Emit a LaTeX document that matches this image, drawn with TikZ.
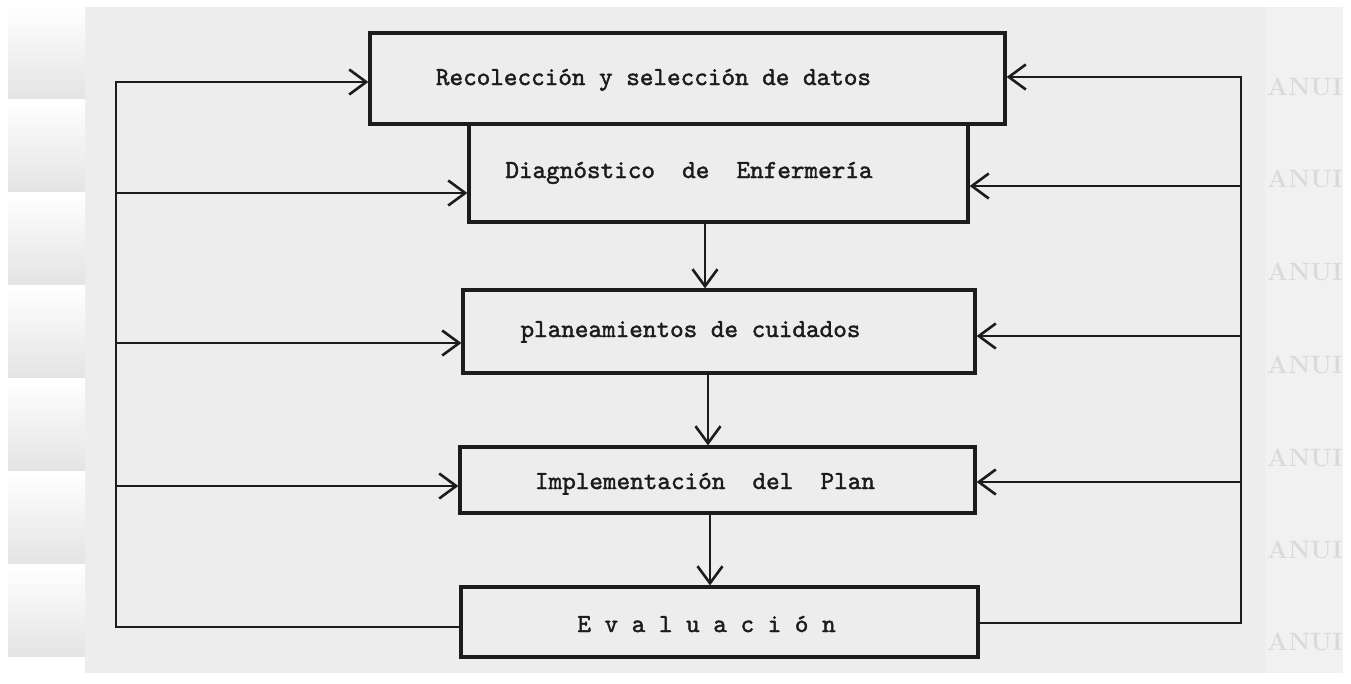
\documentclass[tikz,border=0pt]{standalone}
\usepackage{fontspec}
\usetikzlibrary{arrows.meta}
\newfontfamily\typew{lmmono10-regular.otf}[FakeBold=1.6]
\definecolor{paper}{RGB}{237,237,237}
\definecolor{ink}{RGB}{28,28,28}
\definecolor{sidebg}{RGB}{241,241,241}
\definecolor{wmark}{RGB}{218,218,218}
\definecolor{tilelo}{RGB}{228,228,228}
\begin{document}
\begin{tikzpicture}[x=1pt,y=-1pt,
  box/.style={draw=ink, line width=3.2pt, rectangle, inner sep=0pt},
  lbl/.style={font=\typew\bfseries\fontsize{25.9}{30}\selectfont, text=ink, anchor=base, inner sep=0pt},
  conn/.style={draw=ink, line width=2.6pt, line join=miter},
  arr/.style={conn, -{Straight Barb[length=17pt,width=25pt,line width=2.6pt]}},
  wm/.style={font=\bfseries\fontsize{25}{30}\selectfont, text=wmark, anchor=base west, inner sep=0pt}]
\useasboundingbox (0,0) rectangle (1351,683);
% background
\fill[white] (0,0) rectangle (1351,683);
\fill[paper] (85,7) rectangle (1265,673);
\fill[sidebg] (1265,7) rectangle (1343,673);
\foreach \i in {0,...,6}{
  \shade[top color=white, bottom color=tilelo] (8,{7+\i*93}) rectangle (85,{7+\i*93+91});
}
\begin{scope}
  \clip (1265,7) rectangle (1343,673);
  \foreach \yy in {95,187,280,373,466,558,650}{
    \node[wm] at (1267,\yy) {ANUI};
  }
\end{scope}
% boxes
\node[box, minimum width=635pt, minimum height=91pt] (b1) at (687.5,78.5) {};
\node[box, minimum width=499pt, minimum height=98pt] (b2) at (718.5,173) {};
\node[box, minimum width=512pt, minimum height=83pt] (b3) at (719,331.5) {};
\node[box, minimum width=515pt, minimum height=66pt] (b4) at (717.5,480) {};
\node[box, minimum width=517pt, minimum height=70pt] (b5) at (719.5,622) {};
% labels
\node[lbl] (t1) at (653.5,85) {Recolección y selección de datos};
\node[lbl] (t2) at (689,178) {Diagnóstico\ \ de\ \ Enfermería};
\node[lbl] (t3) at (690.5,337) {planeamientos de cuidados};
\node[lbl] (t4) at (705,489) {Implementación\ \ del\ \ Plan};
\node[lbl] (t5) at (706.5,632) {E v a l u a c i ó n};
% coordinates of feedback loops
\coordinate (L1) at (116,82);
\coordinate (L2) at (116,193);
\coordinate (L3) at (116,343);
\coordinate (L4) at (116,486);
\coordinate (L5) at (116,627);
\coordinate (R1) at (1241,77);
\coordinate (R2) at (1241,186);
\coordinate (R3) at (1241,336);
\coordinate (R4) at (1241,482);
\coordinate (R5) at (1241,623);
\coordinate (V1) at (705,0);
\coordinate (V2) at (708,0);
\coordinate (V3) at (710,0);
% left loop
\draw[arr] (b5.west |- L5) -- (L5) -- (L1) -- (b1.west |- L1);
\draw[arr] (L2) -- (b2.west |- L2);
\draw[arr] (L3) -- (b3.west |- L3);
\draw[arr] (L4) -- (b4.west |- L4);
% right loop
\draw[arr] (b5.east |- R5) -- (R5) -- (R1) -- (b1.east |- R1);
\draw[arr] (R2) -- (b2.east |- R2);
\draw[arr] (R3) -- (b3.east |- R3);
\draw[arr] (R4) -- (b4.east |- R4);
% main flow
\draw[arr] (b2.south -| V1) -- (b3.north -| V1);
\draw[arr] (b3.south -| V2) -- (b4.north -| V2);
\draw[arr] (b4.south -| V3) -- (b5.north -| V3);
\end{tikzpicture}
\end{document}
